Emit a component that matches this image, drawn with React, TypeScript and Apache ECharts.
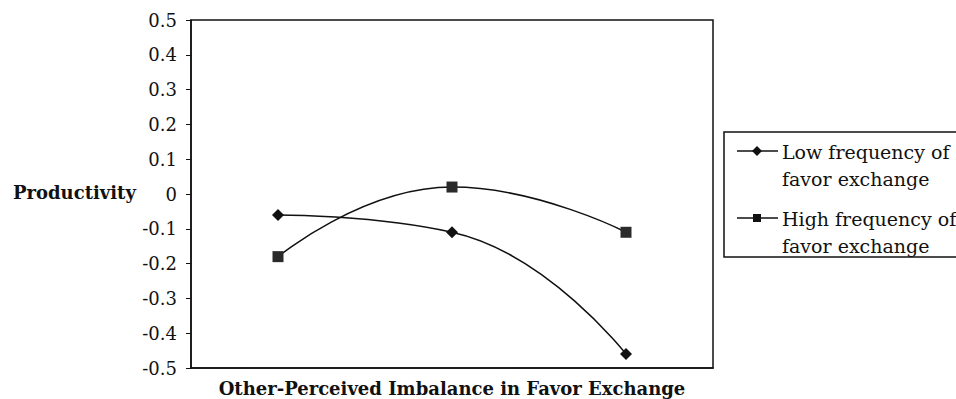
import React, { useEffect, useRef } from "react";
import * as echarts from "echarts";

const categories = ["Low", "Medium", "High"];
const lowFrequency = [-0.06, -0.11, -0.46];
const highFrequency = [-0.18, 0.02, -0.11];
const seriesNames = ["Low frequency of\nfavor exchange", "High frequency of\nfavor exchange"];
const yAxisTitle = "Productivity";
const xAxisTitle = "Other-Perceived Imbalance in Favor Exchange";

const FONT = "'DejaVu Serif', serif";

export default function App() {
  const ref = useRef<HTMLDivElement>(null);
  useEffect(() => {
    if (!ref.current) return;
    const chart = echarts.init(ref.current, undefined, { renderer: "svg" });
    const ink = "#111";
    const legendItem = (y: number, name: string, symbol: "diamond" | "rect") => {
      const marker =
        symbol === "diamond"
          ? { type: "polygon", shape: { points: [[757, y - 5], [762, y], [757, y + 5], [752, y]] }, style: { fill: ink } }
          : { type: "rect", shape: { x: 753, y: y - 4, width: 8, height: 8 }, style: { fill: ink } };
      return [
        { type: "line", shape: { x1: 737, y1: y, x2: 778, y2: y }, style: { stroke: ink, lineWidth: 1.5 } },
        marker,
        {
          type: "text",
          x: 782,
          y: y - 13,
          style: { text: name, font: `19px ${FONT}`, fill: ink, lineHeight: 27, textVerticalAlign: "top" },
        },
      ];
    };
    chart.setOption({
      animation: false,
      backgroundColor: "#fff",
      grid: { left: 191, top: 20, width: 522, height: 348, show: true, borderColor: ink, borderWidth: 1.5, containLabel: false },
      xAxis: {
        type: "category",
        data: categories,
        boundaryGap: true,
        axisLine: { onZero: false, lineStyle: { color: ink, width: 1.5 } },
        axisTick: { show: false },
        axisLabel: { show: false },
        splitLine: { show: false },
      },
      yAxis: {
        type: "value",
        min: -0.5,
        max: 0.5,
        interval: 0.1,
        axisLine: { show: true, onZero: false, lineStyle: { color: ink, width: 1.5 } },
        axisTick: { show: true, length: 5, lineStyle: { color: ink } },
        splitLine: { show: false },
        axisLabel: {
          margin: 14,
          color: ink,
          fontFamily: FONT,
          fontSize: 18,
          formatter: (v: number) => {
            const r = Math.round(v * 10) / 10;
            return r === 0 ? "0" : r.toFixed(1);
          },
        },
      },
      series: [
        {
          name: seriesNames[0],
          type: "line",
          data: lowFrequency,
          smooth: 0.5,
          symbol: "diamond",
          symbolSize: 12,
          lineStyle: { color: ink, width: 1.5 },
          itemStyle: { color: ink },
        },
        {
          name: seriesNames[1],
          type: "line",
          data: highFrequency,
          smooth: 0.5,
          symbol: "rect",
          symbolSize: 11,
          lineStyle: { color: ink, width: 1.5 },
          itemStyle: { color: "#2a2a2a" },
        },
      ],
      graphic: [
        {
          type: "text",
          left: 13,
          top: 183,
          style: { text: yAxisTitle, font: `bold 18px ${FONT}`, fill: ink },
        },
        {
          type: "text",
          x: 452,
          y: 388,
          style: { text: xAxisTitle, font: `bold 18px ${FONT}`, fill: ink, textAlign: "center", textVerticalAlign: "middle" },
        },
        {
          type: "rect",
          shape: { x: 724, y: 132, width: 240, height: 125 },
          style: { fill: "#fff", stroke: ink, lineWidth: 1.5 },
        },
        ...legendItem(151, seriesNames[0], "diamond"),
        ...legendItem(218, seriesNames[1], "rect"),
      ],
    });
    return () => chart.dispose();
  }, []);
  return <div ref={ref} style={{ position: "fixed", left: 0, top: 0, width: 956, height: 399 }} />;
}
